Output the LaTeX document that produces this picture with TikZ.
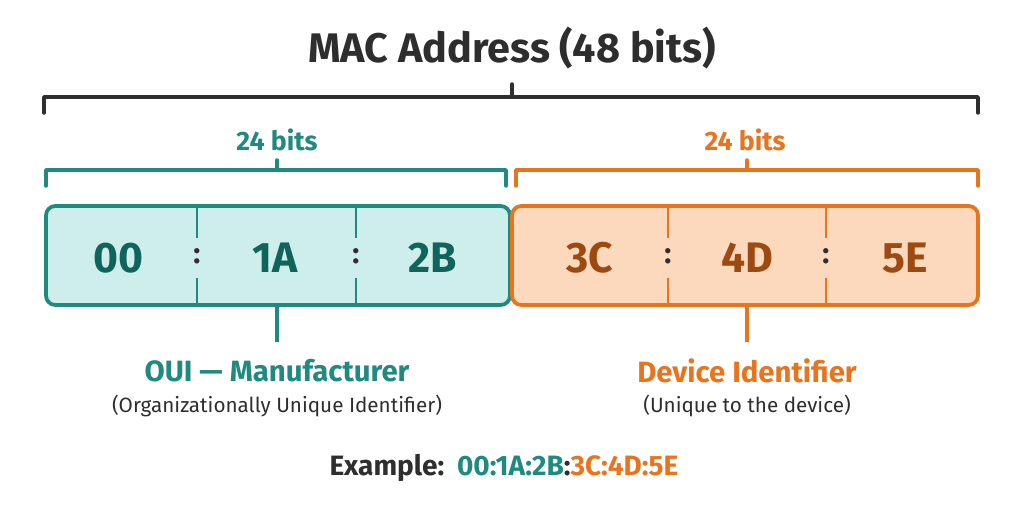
\documentclass[tikz,border=0pt]{standalone}
\usepackage{fontspec}
\setmainfont{Fira Sans}
\definecolor{tealL}{HTML}{1F8A80}
\definecolor{tealF}{HTML}{CDEEEA}
\definecolor{tealD}{HTML}{11645C}
\definecolor{orL}{HTML}{E8741E}
\definecolor{orF}{HTML}{FCD9BD}
\definecolor{orD}{HTML}{9C4A12}
\definecolor{dk}{HTML}{2E2E2E}
\begin{document}
\begin{tikzpicture}[x=0.75pt,y=-0.75pt,
  br/.style={line width=2.6pt,line cap=round,line join=round},
  lbl/.style={font=\fontsize{20}{22}\selectfont\bfseries},
  dig/.style={font=\fontsize{32}{34}\selectfont\bfseries},
  sub/.style={font=\fontsize{15.5}{17}\selectfont,text=dk},
  col/.style={font=\fontsize{22}{22}\selectfont\bfseries,text=dk}]
\useasboundingbox[fill=white] (0,0) rectangle (1024,512);
\node[font=\fontsize{31}{33}\selectfont\bfseries,text=dk] (title) at (512,48) {MAC Address (48 bits)};
\draw[br,dk] (44,113) -- (44,97) -- (978,97) -- (978,113);
\coordinate (tt) at (512,84); \draw[br,dk] (512,97) -- (tt);
\node[lbl,text=tealL] (t24) at (277,140) {24 bits};
\draw[br,tealL] (46,186) -- (46,170) -- (506,170) -- (506,186);
\draw[br,tealL] (277,170) -- (277,160);
\node[lbl,text=orL] (o24) at (745,140) {24 bits};
\draw[br,orL] (516,186) -- (516,170) -- (978,170) -- (978,186);
\draw[br,orL] (747,170) -- (747,160);
\draw[line width=2.8pt,draw=tealL,fill=tealF,rounded corners=7] (46,206) rectangle (510,305);
\draw[line width=2.8pt,draw=orL,fill=orF,rounded corners=7] (512,206) rectangle (978,305);
\draw[line width=1.6pt,tealL] (197,206)--(197,238) (197,278)--(197,305) (356,206)--(356,238) (356,278)--(356,305);
\draw[line width=1.6pt,orL] (668,206)--(668,238) (668,278)--(668,305) (826,206)--(826,238) (826,278)--(826,305);
\node[col] at (197,256) {:}; \node[col] at (356,256) {:};
\node[col] at (668,256) {:}; \node[col] at (826,256) {:};
\node[dig,text=tealD] (a) at (118,258) {00};
\node[dig,text=tealD] (b) at (275,258) {1A};
\node[dig,text=tealD] (c) at (433,258) {2B};
\node[dig,text=orD] (d) at (590,258) {3C};
\node[dig,text=orD] (e) at (747,258) {4D};
\node[dig,text=orD] (f) at (905,258) {5E};
\draw[line width=2.8pt,tealL] (277,305) -- (277,342);
\draw[line width=2.8pt,orL] (747,305) -- (747,342);
\node[lbl,text=tealL,font=\fontsize{22}{24}\selectfont\bfseries] (oui) at (277,371) {OUI — Manufacturer};
\node[sub] (ouis) at (277,406) {(Organizationally Unique Identifier)};
\node[lbl,text=orL,font=\fontsize{22}{24}\selectfont\bfseries] (dev) at (747,371) {Device Identifier};
\node[sub] (devs) at (747,406) {(Unique to the device)};
\node[font=\fontsize{21}{24}\selectfont\bfseries] (ex) at (504,468) {\textcolor{dk}{Example:}\hspace{3pt} \textcolor{tealL}{00:1A:2B}\textcolor{dk}{:}\textcolor{orL}{3C:4D:5E}};
\end{tikzpicture}
\end{document}
